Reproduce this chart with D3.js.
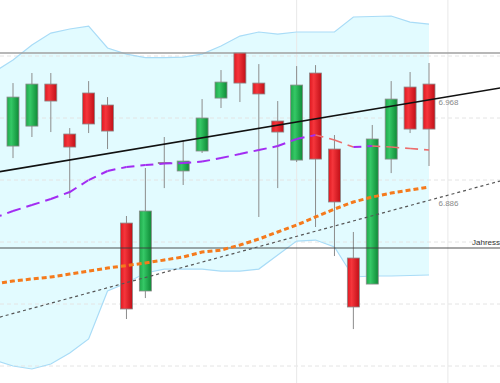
<!DOCTYPE html>
<html>
<head>
<meta charset="utf-8">
<script src="https://cdn.jsdelivr.net/npm/d3@7"></script>
<style>
    html, body { margin: 0; padding: 0; background: #fff; overflow: hidden; }
    svg { display: block; }
</style>
</head>
<body>
<svg id="chart" width="500" height="383"></svg>
<script>
// candles, index 0..22
var opens  = [6.9274, 6.9435, 6.9774, 6.9371, 6.9702, 6.9605, 6.8653, 6.8105, 6.9141, 6.9073, 6.9234, 6.9661,
              7.0024, 6.9782, 6.9476, 6.9161, 6.9863, 6.9250, 6.8371, 6.8161, 6.9169, 6.9750, 6.9774];
var highs  = [6.9782, 6.9863, 6.9863, 6.9419, 6.9798, 6.9669, 6.8710, 6.9097, 6.9347, 6.9323, 6.9653, 6.9887,
              7.0024, 6.9935, 6.9637, 6.9919, 6.9927, 6.9363, 6.8581, 6.9444, 6.9798, 6.9871, 6.9944];
var lows   = [6.9177, 6.9347, 6.9387, 6.8855, 6.9379, 6.9250, 6.7879, 6.8048, 6.8935, 6.8960, 6.9218, 6.9581,
              6.9629, 6.8702, 6.8935, 6.9145, 6.8621, 6.8387, 6.7798, 6.8161, 6.9056, 6.9379, 6.9113];
var closes = [6.9669, 6.9774, 6.9637, 6.9266, 6.9452, 6.9395, 6.7960, 6.8750, 6.9133, 6.9153, 6.9500, 6.9790,
              6.9782, 6.9694, 6.9387, 6.9766, 6.9169, 6.8823, 6.7976, 6.9331, 6.9653, 6.9411, 6.9411];

// indicator lines, index -1..22
var upperBand = [6.9871, 6.9968, 7.0089, 7.0185, 7.0218, 7.0242, 7.0065, 7.0016, 6.9988, 6.9988, 6.9992, 7.0016,
                 7.0081, 7.0161, 7.0194, 7.0177, 7.0194, 7.0194, 7.0194, 7.0315, 7.0319, 7.0323, 7.0274, 7.0258];
var lowerBand = [6.7548, 6.7500, 6.7476, 6.7516, 6.7605, 6.7718, 6.8105, 6.8169, 6.8250, 6.8282, 6.8282, 6.8282,
                 6.8266, 6.8266, 6.8282, 6.8395, 6.8508, 6.8516, 6.8460, 6.8218, 6.8226, 6.8226, 6.8230, 6.8234];
var slowAvg   = [6.8161, 6.8185, 6.8202, 6.8218, 6.8242, 6.8266, 6.8290, 6.8310, 6.8331, 6.8355, 6.8379, 6.8419,
                 6.8435, 6.8476, 6.8524, 6.8581, 6.8637, 6.8702, 6.8766, 6.8823, 6.8863, 6.8895, 6.8919, 6.8944];
var fastAvg   = [6.8694, 6.8750, 6.8798, 6.8847, 6.8903, 6.9000, 6.9073, 6.9105, 6.9121, 6.9133, 6.9137, 6.9149,
                 6.9177, 6.9210, 6.9242, 6.9274, 6.9331, 6.9363, 6.9323, 6.9266, 6.9274, 6.9266, 6.9254, 6.9242];

var trendLine   = [[-1, 6.9060], [26, 6.9748]];
var supportLine = [[-1, 6.7882], [26, 6.9002]];

var gridTicks = [6.75, 6.80, 6.85, 6.90, 6.95, 7.00];
var dayLines = [15, 23];
var topLevel = 7.0024;
var yearClose = 6.8452;
var yearCloseLabel = 'Jahresschluss';
var valueLabels = [6.968, 6.886];

var width = 500, height = 383;
var svg = d3.select('#chart');

var x = d3.scaleLinear().domain([0, 22]).range([13, 429]);
var y = d3.scaleLinear().domain([6.7363, 7.0452]).range([height, 0]);

var defs = svg.append('defs');
function addGradient(id, stops) {
    var g = defs.append('linearGradient').attr('id', id)
        .attr('x1', '0%').attr('x2', '100%').attr('y1', '0%').attr('y2', '0%');
    stops.forEach(function (s) {
        g.append('stop').attr('offset', s[0]).attr('stop-color', s[1]);
    });
}
addGradient('gUp', [['0%', '#1fa84a'], ['35%', '#35c866'], ['100%', '#0e8a36']]);
addGradient('gDown', [['0%', '#e01820'], ['35%', '#f5363c'], ['100%', '#c10f17']]);

// line data with index starting at -1
function series(values) {
    return values.map(function (v, i) { return [i - 1, v]; });
}

// band fill
var area = d3.area()
    .x(function (d) { return x(d[0]); })
    .y0(function (d, i) { return y(lowerBand[i]); })
    .y1(function (d) { return y(d[1]); });
svg.append('path').datum(series(upperBand))
    .attr('d', area).attr('fill', '#e2fbff');

// grid
svg.selectAll('.grid').data(gridTicks).enter().append('line')
    .attr('x1', 0).attr('x2', width)
    .attr('y1', function (d) { return y(d); }).attr('y2', function (d) { return y(d); })
    .attr('stroke', '#e4e4e4').attr('stroke-dasharray', '4,3').attr('stroke-width', 1);
svg.selectAll('.vgrid').data(dayLines).enter().append('line')
    .attr('x1', function (d) { return x(d); }).attr('x2', function (d) { return x(d); })
    .attr('y1', 0).attr('y2', height)
    .attr('stroke', '#e8e8e8').attr('stroke-width', 1);

var line = d3.line().x(function (d) { return x(d[0]); }).y(function (d) { return y(d[1]); });

// band borders
[upperBand, lowerBand].forEach(function (b) {
    svg.append('path').datum(series(b)).attr('d', line)
        .attr('fill', 'none').attr('stroke', '#a9dcf7').attr('stroke-width', 1.2);
});

// top level line
svg.append('line').attr('x1', 0).attr('x2', width)
    .attr('y1', y(topLevel)).attr('y2', y(topLevel))
    .attr('stroke', '#a0a0a0').attr('stroke-width', 1.6);

// candles
var candles = opens.map(function (o, i) {
    return { i: i, o: o, h: highs[i], l: lows[i], c: closes[i] };
});
var bodyW = 12;
var cg = svg.selectAll('.candle').data(candles).enter().append('g');
cg.append('line')
    .attr('x1', function (d) { return x(d.i); }).attr('x2', function (d) { return x(d.i); })
    .attr('y1', function (d) { return y(d.h); }).attr('y2', function (d) { return y(d.l); })
    .attr('stroke', '#8c8c8c').attr('stroke-width', 1);
cg.append('rect')
    .attr('x', function (d) { return x(d.i) - bodyW / 2; })
    .attr('width', bodyW)
    .attr('y', function (d) { return y(Math.max(d.o, d.c)); })
    .attr('height', function (d) { return Math.max(1, Math.abs(y(d.o) - y(d.c))); })
    .attr('fill', function (d) { return d.c >= d.o ? 'url(#gUp)' : 'url(#gDown)'; })
    .attr('stroke', '#8a8a8a').attr('stroke-width', 0.8);

// year close line
svg.append('line').attr('x1', 0).attr('x2', width)
    .attr('y1', y(yearClose)).attr('y2', y(yearClose))
    .attr('stroke', 'rgba(60,60,60,0.6)').attr('stroke-width', 1.5);
svg.append('text').attr('x', 472).attr('y', y(yearClose) - 2.5)
    .attr('font-family', 'Liberation Sans, Arial, sans-serif').attr('font-size', 8)
    .attr('fill', '#333').text(yearCloseLabel);

// slow average
svg.append('path').datum(series(slowAvg)).attr('d', line)
    .attr('fill', 'none').attr('stroke', '#f57a1c').attr('stroke-width', 3)
    .attr('stroke-dasharray', '5,3');

// support (dotted)
svg.append('path').datum(supportLine).attr('d', line)
    .attr('fill', 'none').attr('stroke', '#555').attr('stroke-width', 1.2)
    .attr('stroke-dasharray', '3,3');

// fast average, coloured by direction
var fast = series(fastAvg);
for (var k = 0; k < fast.length - 1; k++) {
    var up = fast[k + 1][1] >= fast[k][1];
    svg.append('path').datum([fast[k], fast[k + 1]]).attr('d', line)
        .attr('fill', 'none')
        .attr('stroke', up ? '#a22cf2' : '#ec6d6d')
        .attr('stroke-width', up ? 2 : 1.6)
        .attr('stroke-dasharray', '8,6');
}

// trend line
svg.append('path').datum(trendLine).attr('d', line)
    .attr('fill', 'none').attr('stroke', '#111').attr('stroke-width', 1.6);

// value labels
svg.selectAll('.vlabel').data(valueLabels).enter().append('text')
    .attr('x', x(22.5)).attr('y', function (d) { return y(d) + 9; })
    .attr('font-family', 'Liberation Sans, Arial, sans-serif').attr('font-size', 8)
    .attr('fill', '#8a8a8a')
    .text(function (d) { return d3.format('.3f')(d); });
</script>
</body>
</html>
